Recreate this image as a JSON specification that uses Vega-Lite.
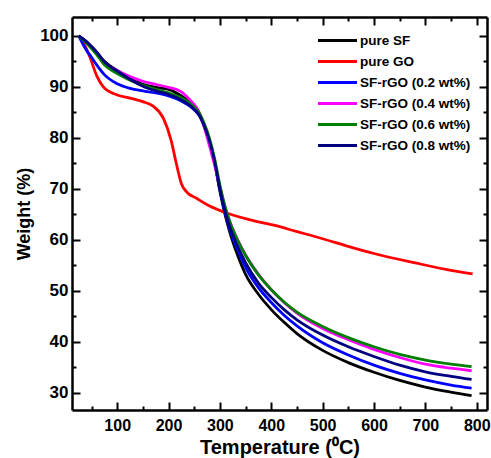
{
  "$schema": "https://vega.github.io/schema/vega-lite/v6.json",
  "width": 415,
  "height": 393,
  "autosize": {"type": "none"},
  "padding": {"left": 72, "top": 17, "right": 4, "bottom": 48},
  "config": {"font": "Liberation Sans", "view": {"stroke": null}},
  "data": {"values": [
    {"s":"pure SF","T":25,"W":100},{"s":"pure SF","T":40,"W":98.9},{"s":"pure SF","T":50,"W":97.9},{"s":"pure SF","T":60,"W":96.8},{"s":"pure SF","T":75,"W":95},{"s":"pure SF","T":100,"W":93.2},{"s":"pure SF","T":125,"W":91.7},{"s":"pure SF","T":150,"W":90.5},{"s":"pure SF","T":175,"W":89.9},{"s":"pure SF","T":200,"W":89.5},{"s":"pure SF","T":225,"W":88.2},{"s":"pure SF","T":250,"W":86.2},{"s":"pure SF","T":260,"W":84.7},{"s":"pure SF","T":270,"W":82.3},{"s":"pure SF","T":280,"W":79.3},{"s":"pure SF","T":290,"W":75},{"s":"pure SF","T":300,"W":69.5},{"s":"pure SF","T":310,"W":64.9},{"s":"pure SF","T":320,"W":61.2},{"s":"pure SF","T":335,"W":56.8},{"s":"pure SF","T":350,"W":53.2},{"s":"pure SF","T":375,"W":49.3},{"s":"pure SF","T":400,"W":46.3},{"s":"pure SF","T":425,"W":43.8},{"s":"pure SF","T":450,"W":41.6},{"s":"pure SF","T":500,"W":38.3},{"s":"pure SF","T":550,"W":35.9},{"s":"pure SF","T":600,"W":34},{"s":"pure SF","T":650,"W":32.4},{"s":"pure SF","T":700,"W":31.1},{"s":"pure SF","T":750,"W":30.1},{"s":"pure SF","T":790,"W":29.4},
    {"s":"pure GO","T":25,"W":100},{"s":"pure GO","T":35,"W":98.5},{"s":"pure GO","T":47,"W":95.8},{"s":"pure GO","T":60,"W":92.2},{"s":"pure GO","T":73,"W":90},{"s":"pure GO","T":100,"W":88.4},{"s":"pure GO","T":125,"W":87.8},{"s":"pure GO","T":150,"W":87.1},{"s":"pure GO","T":170,"W":86.2},{"s":"pure GO","T":190,"W":83.8},{"s":"pure GO","T":205,"W":79.5},{"s":"pure GO","T":215,"W":75},{"s":"pure GO","T":225,"W":71},{"s":"pure GO","T":235,"W":69.4},{"s":"pure GO","T":255,"W":68.1},{"s":"pure GO","T":280,"W":66.6},{"s":"pure GO","T":306,"W":65.5},{"s":"pure GO","T":359,"W":63.9},{"s":"pure GO","T":403,"W":62.9},{"s":"pure GO","T":450,"W":61.6},{"s":"pure GO","T":500,"W":60.2},{"s":"pure GO","T":553,"W":58.6},{"s":"pure GO","T":600,"W":57.3},{"s":"pure GO","T":683,"W":55.4},{"s":"pure GO","T":740,"W":54.2},{"s":"pure GO","T":792,"W":53.3},
    {"s":"SF-rGO (0.2 wt%)","T":25,"W":100},{"s":"SF-rGO (0.2 wt%)","T":40,"W":97.2},{"s":"SF-rGO (0.2 wt%)","T":50,"W":95.8},{"s":"SF-rGO (0.2 wt%)","T":60,"W":94.3},{"s":"SF-rGO (0.2 wt%)","T":75,"W":92.4},{"s":"SF-rGO (0.2 wt%)","T":100,"W":90.6},{"s":"SF-rGO (0.2 wt%)","T":125,"W":89.7},{"s":"SF-rGO (0.2 wt%)","T":150,"W":89.2},{"s":"SF-rGO (0.2 wt%)","T":175,"W":88.8},{"s":"SF-rGO (0.2 wt%)","T":200,"W":88.2},{"s":"SF-rGO (0.2 wt%)","T":225,"W":87.2},{"s":"SF-rGO (0.2 wt%)","T":250,"W":85.5},{"s":"SF-rGO (0.2 wt%)","T":260,"W":84.3},{"s":"SF-rGO (0.2 wt%)","T":270,"W":82.1},{"s":"SF-rGO (0.2 wt%)","T":280,"W":79.1},{"s":"SF-rGO (0.2 wt%)","T":290,"W":75},{"s":"SF-rGO (0.2 wt%)","T":300,"W":69.8},{"s":"SF-rGO (0.2 wt%)","T":310,"W":65.3},{"s":"SF-rGO (0.2 wt%)","T":320,"W":61.8},{"s":"SF-rGO (0.2 wt%)","T":335,"W":57.9},{"s":"SF-rGO (0.2 wt%)","T":350,"W":54.6},{"s":"SF-rGO (0.2 wt%)","T":375,"W":50.6},{"s":"SF-rGO (0.2 wt%)","T":400,"W":47.7},{"s":"SF-rGO (0.2 wt%)","T":425,"W":45.2},{"s":"SF-rGO (0.2 wt%)","T":450,"W":43.1},{"s":"SF-rGO (0.2 wt%)","T":500,"W":39.8},{"s":"SF-rGO (0.2 wt%)","T":550,"W":37.4},{"s":"SF-rGO (0.2 wt%)","T":600,"W":35.4},{"s":"SF-rGO (0.2 wt%)","T":650,"W":33.8},{"s":"SF-rGO (0.2 wt%)","T":700,"W":32.5},{"s":"SF-rGO (0.2 wt%)","T":750,"W":31.5},{"s":"SF-rGO (0.2 wt%)","T":790,"W":30.9},
    {"s":"SF-rGO (0.4 wt%)","T":25,"W":100},{"s":"SF-rGO (0.4 wt%)","T":40,"W":98.8},{"s":"SF-rGO (0.4 wt%)","T":50,"W":97.8},{"s":"SF-rGO (0.4 wt%)","T":60,"W":96.7},{"s":"SF-rGO (0.4 wt%)","T":75,"W":94.8},{"s":"SF-rGO (0.4 wt%)","T":100,"W":93.2},{"s":"SF-rGO (0.4 wt%)","T":125,"W":92},{"s":"SF-rGO (0.4 wt%)","T":150,"W":91.1},{"s":"SF-rGO (0.4 wt%)","T":175,"W":90.5},{"s":"SF-rGO (0.4 wt%)","T":200,"W":89.9},{"s":"SF-rGO (0.4 wt%)","T":225,"W":89},{"s":"SF-rGO (0.4 wt%)","T":240,"W":87.6},{"s":"SF-rGO (0.4 wt%)","T":250,"W":86.5},{"s":"SF-rGO (0.4 wt%)","T":260,"W":84.9},{"s":"SF-rGO (0.4 wt%)","T":270,"W":81.9},{"s":"SF-rGO (0.4 wt%)","T":280,"W":78.3},{"s":"SF-rGO (0.4 wt%)","T":290,"W":74.5},{"s":"SF-rGO (0.4 wt%)","T":300,"W":70.4},{"s":"SF-rGO (0.4 wt%)","T":310,"W":66.4},{"s":"SF-rGO (0.4 wt%)","T":320,"W":63.4},{"s":"SF-rGO (0.4 wt%)","T":335,"W":59.9},{"s":"SF-rGO (0.4 wt%)","T":350,"W":57},{"s":"SF-rGO (0.4 wt%)","T":375,"W":53.2},{"s":"SF-rGO (0.4 wt%)","T":400,"W":50.2},{"s":"SF-rGO (0.4 wt%)","T":425,"W":47.7},{"s":"SF-rGO (0.4 wt%)","T":450,"W":45.6},{"s":"SF-rGO (0.4 wt%)","T":500,"W":42.6},{"s":"SF-rGO (0.4 wt%)","T":550,"W":40.4},{"s":"SF-rGO (0.4 wt%)","T":600,"W":38.5},{"s":"SF-rGO (0.4 wt%)","T":650,"W":36.9},{"s":"SF-rGO (0.4 wt%)","T":700,"W":35.6},{"s":"SF-rGO (0.4 wt%)","T":750,"W":34.8},{"s":"SF-rGO (0.4 wt%)","T":790,"W":34.3},
    {"s":"SF-rGO (0.6 wt%)","T":25,"W":100},{"s":"SF-rGO (0.6 wt%)","T":40,"W":98.6},{"s":"SF-rGO (0.6 wt%)","T":50,"W":97.5},{"s":"SF-rGO (0.6 wt%)","T":60,"W":96.3},{"s":"SF-rGO (0.6 wt%)","T":75,"W":94.3},{"s":"SF-rGO (0.6 wt%)","T":100,"W":92.6},{"s":"SF-rGO (0.6 wt%)","T":125,"W":91.3},{"s":"SF-rGO (0.6 wt%)","T":150,"W":90.3},{"s":"SF-rGO (0.6 wt%)","T":175,"W":89.5},{"s":"SF-rGO (0.6 wt%)","T":200,"W":88.8},{"s":"SF-rGO (0.6 wt%)","T":225,"W":87.8},{"s":"SF-rGO (0.6 wt%)","T":250,"W":86},{"s":"SF-rGO (0.6 wt%)","T":260,"W":84.8},{"s":"SF-rGO (0.6 wt%)","T":270,"W":82.7},{"s":"SF-rGO (0.6 wt%)","T":280,"W":79.8},{"s":"SF-rGO (0.6 wt%)","T":290,"W":75.8},{"s":"SF-rGO (0.6 wt%)","T":300,"W":70.7},{"s":"SF-rGO (0.6 wt%)","T":310,"W":66.5},{"s":"SF-rGO (0.6 wt%)","T":320,"W":63.3},{"s":"SF-rGO (0.6 wt%)","T":335,"W":59.8},{"s":"SF-rGO (0.6 wt%)","T":350,"W":56.9},{"s":"SF-rGO (0.6 wt%)","T":375,"W":53.1},{"s":"SF-rGO (0.6 wt%)","T":400,"W":50.2},{"s":"SF-rGO (0.6 wt%)","T":425,"W":47.8},{"s":"SF-rGO (0.6 wt%)","T":450,"W":45.8},{"s":"SF-rGO (0.6 wt%)","T":500,"W":43},{"s":"SF-rGO (0.6 wt%)","T":550,"W":40.8},{"s":"SF-rGO (0.6 wt%)","T":600,"W":39},{"s":"SF-rGO (0.6 wt%)","T":650,"W":37.5},{"s":"SF-rGO (0.6 wt%)","T":700,"W":36.4},{"s":"SF-rGO (0.6 wt%)","T":750,"W":35.6},{"s":"SF-rGO (0.6 wt%)","T":790,"W":35.1},
    {"s":"SF-rGO (0.8 wt%)","T":25,"W":100},{"s":"SF-rGO (0.8 wt%)","T":40,"W":98.9},{"s":"SF-rGO (0.8 wt%)","T":50,"W":97.9},{"s":"SF-rGO (0.8 wt%)","T":60,"W":96.8},{"s":"SF-rGO (0.8 wt%)","T":75,"W":94.9},{"s":"SF-rGO (0.8 wt%)","T":100,"W":93.1},{"s":"SF-rGO (0.8 wt%)","T":125,"W":91.5},{"s":"SF-rGO (0.8 wt%)","T":150,"W":90.1},{"s":"SF-rGO (0.8 wt%)","T":175,"W":89.2},{"s":"SF-rGO (0.8 wt%)","T":200,"W":88.5},{"s":"SF-rGO (0.8 wt%)","T":225,"W":87.4},{"s":"SF-rGO (0.8 wt%)","T":250,"W":85.6},{"s":"SF-rGO (0.8 wt%)","T":260,"W":84.4},{"s":"SF-rGO (0.8 wt%)","T":270,"W":82.2},{"s":"SF-rGO (0.8 wt%)","T":280,"W":79.3},{"s":"SF-rGO (0.8 wt%)","T":290,"W":75.2},{"s":"SF-rGO (0.8 wt%)","T":300,"W":70},{"s":"SF-rGO (0.8 wt%)","T":310,"W":65.6},{"s":"SF-rGO (0.8 wt%)","T":320,"W":62.3},{"s":"SF-rGO (0.8 wt%)","T":335,"W":58.6},{"s":"SF-rGO (0.8 wt%)","T":350,"W":55.5},{"s":"SF-rGO (0.8 wt%)","T":375,"W":51.5},{"s":"SF-rGO (0.8 wt%)","T":400,"W":48.7},{"s":"SF-rGO (0.8 wt%)","T":425,"W":46.3},{"s":"SF-rGO (0.8 wt%)","T":450,"W":44.3},{"s":"SF-rGO (0.8 wt%)","T":500,"W":41.3},{"s":"SF-rGO (0.8 wt%)","T":550,"W":39},{"s":"SF-rGO (0.8 wt%)","T":600,"W":37.1},{"s":"SF-rGO (0.8 wt%)","T":650,"W":35.4},{"s":"SF-rGO (0.8 wt%)","T":700,"W":34.1},{"s":"SF-rGO (0.8 wt%)","T":750,"W":33.2},{"s":"SF-rGO (0.8 wt%)","T":790,"W":32.6}
  ]},
  "layer": [
    {
      "mark": {"type": "line", "interpolate": "monotone", "strokeWidth": 2.8},
      "encoding": {
        "x": {"field": "T", "type": "quantitative",
          "scale": {"domain": [12, 820], "nice": false, "zero": false},
          "axis": {"values": [50,100,150,200,250,300,350,400,450,500,550,600,650,700,750,800],
            "labelExpr": "datum.value % 100 === 0 ? datum.label : ''",
            "tickSize": {"condition": {"test": "datum.value % 100 === 0", "value": -8}, "value": -4},
            "tickWidth": 2, "tickColor": "black", "domainWidth": 2.5, "domainColor": "black",
            "labelFontSize": 16, "labelFontWeight": "bold", "labelColor": "black", "labelPadding": 15,
            "labelOverlap": false, "labelFlush": false, "grid": false,
            "title": "Temperature (⁰C)", "titleFontSize": 20, "titleFontWeight": "bold", "titleColor": "black", "titlePadding": 0}},
        "y": {"field": "W", "type": "quantitative",
          "scale": {"domain": [26.6, 103.7], "nice": false, "zero": false},
          "axis": {"values": [30,35,40,45,50,55,60,65,70,75,80,85,90,95,100],
            "labelExpr": "datum.value % 10 === 0 ? datum.label : ''",
            "tickSize": {"condition": {"test": "datum.value % 10 === 0", "value": -8}, "value": -4},
            "tickWidth": 2, "tickColor": "black", "domainWidth": 2.5, "domainColor": "black",
            "labelFontSize": 17, "labelFontWeight": "bold", "labelColor": "black", "labelPadding": 12,
            "labelOverlap": false, "labelFlush": false, "grid": false,
            "title": "Weight (%)", "titleFontSize": 18, "titleFontWeight": "bold", "titleColor": "black", "titlePadding": 6}},
        "color": {"field": "s", "type": "nominal",
          "scale": {"domain": ["pure SF","pure GO","SF-rGO (0.2 wt%)","SF-rGO (0.4 wt%)","SF-rGO (0.6 wt%)","SF-rGO (0.8 wt%)"],
                    "range": ["#000000","#FF0000","#0000FF","#FF00FF","#008000","#000080"]},
          "legend": {"orient": "none", "legendX": 254, "legendY": 12, "title": null, "padding": 0,
            "symbolType": "M-2,0H2", "symbolSize": 380, "symbolStrokeWidth": 3,
            "labelFontSize": 13.5, "labelFontWeight": "bold", "labelColor": "black", "labelOffset": 11, "rowPadding": 3}}
      }
    },
    {
      "mark": {"type": "line", "opacity": 0},
      "encoding": {
        "x": {"field": "T", "type": "quantitative",
          "axis": {"orient": "top", "values": [50,100,150,200,250,300,350,400,450,500,550,600,650,700,750,800],
            "labels": false, "title": null, "grid": false,
            "tickSize": {"condition": {"test": "datum.value % 100 === 0", "value": -8}, "value": -4},
            "tickWidth": 2, "tickColor": "black", "domainWidth": 2.5, "domainColor": "black"}},
        "y": {"field": "W", "type": "quantitative",
          "axis": {"orient": "right", "values": [30,35,40,45,50,55,60,65,70,75,80,85,90,95,100],
            "labels": false, "title": null, "grid": false,
            "tickSize": {"condition": {"test": "datum.value % 10 === 0", "value": -8}, "value": -4},
            "tickWidth": 2, "tickColor": "black", "domainWidth": 2.5, "domainColor": "black"}},
        "detail": {"field": "s"}
      }
    }
  ],
  "resolve": {"axis": {"x": "independent", "y": "independent"}}
}
